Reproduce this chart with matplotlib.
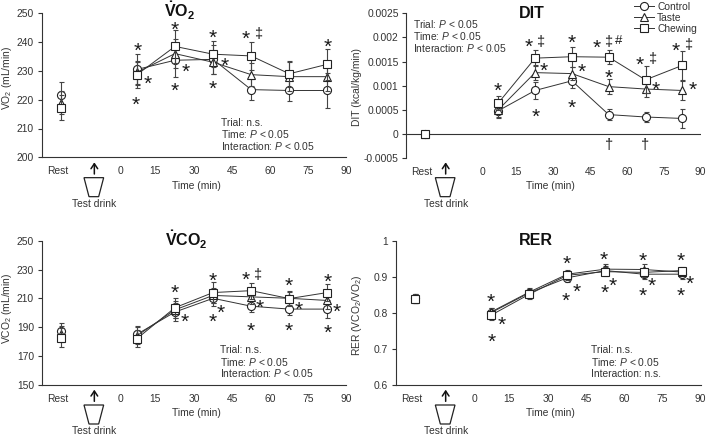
import matplotlib
matplotlib.use("Agg")
import matplotlib.pyplot as plt
from matplotlib.patches import Polygon

plt.rcParams.update({
    "font.family": ["Liberation Sans", "DejaVu Sans"],
    "mathtext.fontset": "custom",
    "mathtext.rm": "Liberation Sans",
    "mathtext.it": "Liberation Sans:italic",
    "mathtext.bf": "Liberation Sans:bold",
    "font.size": 7.4,
})

W, H = 708, 437
TEXT = "#333333"
INK = "#1a1a1a"
FS = 7.4

times = [7.5, 22.5, 37.5, 52.5, 67.5, 82.5]
rest_x = -22.5
x_tick_labels = ["Rest", "0", "15", "30", "45", "60", "75", "90"]
x_tick_pos = [-23.5, 1, 14.5, 30, 45, 60, 75, 90]
series_names = ["Control", "Taste", "Chewing"]
series_markers = ["o", "^", "s"]

vo2_rest = [221.5, 219, 217.2]
vo2_control = [230.5, 233.7, 234, 223.5, 223.2, 223.2]
vo2_taste = [229.5, 236, 233, 228.7, 228, 228]
vo2_chewing = [228.7, 238.5, 235.8, 235.2, 229, 232.3]
vo2_rest_err = [4.5, 4, 4.3]
vo2_err_control = [5.5, 5.7, 5, 3.6, 3.7, 6.2]
vo2_err_taste = [4, 5, 4, 4, 5, 5]
vo2_err_chewing = [4.5, 5.7, 4.5, 4.8, 4.5, 5.3]

dit_rest = [0, 0, 0]
dit_control = [0.00048, 0.0009, 0.0011, 0.0004, 0.00035, 0.00032]
dit_taste = [0.0005, 0.00127, 0.00125, 0.00098, 0.00093, 0.0009]
dit_chewing = [0.00064, 0.00157, 0.0016, 0.00159, 0.00112, 0.00142]
dit_rest_err = [0, 0, 0]
dit_err_control = [0.00015, 0.00018, 0.00015, 0.00011, 0.0001, 0.0002]
dit_err_taste = [0.00015, 0.00015, 0.00013, 0.00015, 0.00017, 0.0002]
dit_err_chewing = [0.00014, 0.00017, 0.00021, 0.00015, 0.00028, 0.0003]

vco2_rest = [187.5, 185, 182.7]
vco2_control = [185, 200.5, 210, 204.5, 202.5, 202.5]
vco2_taste = [184, 202, 212, 211, 210, 208.5]
vco2_chewing = [182, 203.5, 214, 215.3, 209.8, 214]
vco2_rest_err = [5.5, 5.5, 6.5]
vco2_err_control = [5.7, 6, 5.5, 4, 4, 6.5]
vco2_err_taste = [6, 6, 5, 5, 4.5, 6]
vco2_err_chewing = [6, 7, 7, 5.5, 5, 6]

rer_rest = [0.84, 0.84, 0.838]
rer_control = [0.8, 0.855, 0.897, 0.917, 0.907, 0.907]
rer_taste = [0.802, 0.857, 0.907, 0.921, 0.92, 0.913]
rer_chewing = [0.793, 0.851, 0.904, 0.914, 0.912, 0.917]
rer_rest_err = [0.012, 0.012, 0.012]
rer_err_control = [0.012, 0.01, 0.012, 0.012, 0.012, 0.012]
rer_err_taste = [0.012, 0.012, 0.013, 0.015, 0.015, 0.01]
rer_err_chewing = [0.012, 0.012, 0.013, 0.012, 0.012, 0.01]


def rect(l, t, r, b):
    return [l / W, 1 - b / H, (r - l) / W, (b - t) / H]


panels = [
    dict(box=rect(41.7, 13.3, 346.4, 157.3), ylim=(200, 250),
         yticks=[200, 210, 220, 230, 240, 250],
         ylab=["200", "210", "220", "230", "240", "250"],
         ylabel=r"VO$_2$ (mL/min)", lab_xy=(14, 78),
         rest=vo2_rest, rest_err=vo2_rest_err,
         data=[vo2_control, vo2_taste, vo2_chewing],
         err=[vo2_err_control, vo2_err_taste, vo2_err_chewing],
         title=r"$\mathbf{\dot{V}O_2}$", title_xy=(180, 11), ox=0, oy=0,
         arrow=283, time=590,
         stats=(663, [368, 402, 438], ["Trial: n.s.", r"Time: $\mathit{P}$ < 0.05", r"Interaction: $\mathit{P}$ < 0.05"]),
         stars=[(412, 135), (408, 295), (444, 233), (524, 72), (524, 255), (557, 197), (639, 96),
                (639, 247), (673, 180), (736, 97), (982, 122)],
         ddag=[(775, 98)], hash=[], dag=[]),
    dict(box=rect(406.3, 13.3, 700.7, 158), ylim=(-0.0005, 0.0025),
         yticks=[-0.0005, 0, 0.0005, 0.001, 0.0015, 0.002, 0.0025],
         ylab=["-0.0005", "0", "0.0005", "0.001", "0.0015", "0.002", "0.0025"],
         ylabel="DIT (kcal/kg/min)", lab_xy=(362, 87),
         rest=dit_rest, rest_err=dit_rest_err,
         data=[dit_control, dit_taste, dit_chewing],
         err=[dit_err_control, dit_err_taste, dit_err_chewing],
         title="DIT", title_xy=(532, 12), ox=354, oy=0,
         arrow=275, time=590,
         stats=(176, [72, 108, 143], [r"Trial: $\mathit{P}$ < 0.05", r"Time: $\mathit{P}$ < 0.05", r"Interaction: $\mathit{P}$ < 0.05"]),
         stars=[(430, 254), (523, 122), (570, 195), (544, 332), (652, 110), (682, 197), (654, 305),
                (728, 124), (764, 216), (858, 175), (906, 250), (966, 134), (1016, 251)],
         ddag=[(557, 120), (762, 122), (893, 173), (1001, 130)], hash=[(795, 122)],
         dag=[(765, 430), (873, 430)]),
    dict(box=rect(41.7, 240.7, 346.4, 384.7), ylim=(150, 250),
         yticks=[150, 170, 190, 210, 230, 250],
         ylab=["150", "170", "190", "210", "230", "250"],
         ylabel=r"VCO$_2$ (mL/min)", lab_xy=(14, 308),
         rest=vco2_rest, rest_err=vco2_rest_err,
         data=[vco2_control, vco2_taste, vco2_chewing],
         err=[vco2_err_control, vco2_err_taste, vco2_err_chewing],
         title=r"$\mathbf{\dot{V}CO_2}$", title_xy=(186, 240), ox=0, oy=218,
         arrow=283, time=590,
         stats=(661, [396, 431, 466], ["Trial: n.s.", r"Time: $\mathit{P}$ < 0.05", r"Interaction: $\mathit{P}$ < 0.05"]),
         stars=[(524, 205), (553, 292), (637, 170), (661, 267), (637, 292), (738, 167), (780, 250),
                (751, 320), (866, 186), (897, 257), (867, 320), (982, 172), (1011, 262), (982, 326)],
         ddag=[(771, 165)], hash=[], dag=[]),
    dict(box=rect(395.7, 240.7, 700.7, 384.7), ylim=(0.6, 1),
         yticks=[0.6, 0.7, 0.8, 0.9, 1],
         ylab=["0.6", "0.7", "0.8", "0.9", "1"],
         ylabel=r"RER (VCO$_2$/VO$_2$)", lab_xy=(364, 315),
         rest=rer_rest, rest_err=rer_rest_err,
         data=[rer_control, rer_taste, rer_chewing],
         err=[rer_err_control, rer_err_taste, rer_err_chewing],
         title="RER", title_xy=(536, 239), ox=354, oy=218,
         arrow=275, time=590,
         stats=(711, [397, 432, 467], ["Trial: n.s.", r"Time: $\mathit{P}$ < 0.05", "Interaction: n.s."]),
         stars=[(410, 232), (444, 301), (412, 354), (638, 119), (669, 204), (636, 229), (750, 108),
                (776, 184), (752, 207), (866, 109), (894, 186), (867, 214), (980, 110), (1006, 178),
                (979, 215)],
         ddag=[], hash=[], dag=[]),
]

fig = plt.figure(figsize=(W / 100, H / 100), dpi=100)


def fx(px):
    return px / W


def fy(py):
    return 1 - py / H


legend_handles = None
for i, p in enumerate(panels):
    ax = fig.add_axes(p["box"])
    ax.set_xlim(-30, 90)
    ax.set_ylim(*p["ylim"])
    ax.patch.set_alpha(0)
    for s in ("top", "right"):
        ax.spines[s].set_visible(False)
    for s in ("left", "bottom"):
        ax.spines[s].set_linewidth(0.8)
        ax.spines[s].set_color("#333333")
    if i == 1:
        ax.spines["bottom"].set_visible(False)
        ax.axhline(0, color="#333333", lw=0.8, zorder=1)
    ax.set_yticks(p["yticks"])
    ax.set_yticklabels(p["ylab"])
    ax.set_xticks(x_tick_pos)
    ax.set_xticklabels(x_tick_labels)
    ax.tick_params(axis="x", length=0, pad=6.5, labelsize=FS, labelcolor=TEXT)
    ax.tick_params(axis="y", length=3, width=0.8, color="#333333", pad=2.5, labelsize=FS, labelcolor=TEXT)
    ax.set_ylabel(p["ylabel"], fontsize=FS, color=TEXT)
    ax.yaxis.set_label_coords(fx(p["lab_xy"][0]), fy(p["lab_xy"][1]), transform=fig.transFigure)

    handles = []
    for k in range(3):
        ax.errorbar([rest_x], [p["rest"][k]], yerr=[p["rest_err"][k]] if p["rest_err"][k] else None,
                    fmt=series_markers[k], ms=5.8, mfc="white", mec="#222222", mew=0.8,
                    ecolor="#444444", elinewidth=0.8, capsize=1.8, capthick=0.8, zorder=3 + k)
        ax.errorbar(times, p["data"][k], yerr=p["err"][k], fmt="none",
                    ecolor="#444444", elinewidth=0.8, capsize=1.8, capthick=0.8, zorder=2 + k)
        line, = ax.plot(times, p["data"][k], color="#333333", lw=0.7, marker=series_markers[k],
                        ms=5.8, mfc="white", mec="#222222", mew=0.8, zorder=3 + k,
                        label=series_names[k])
        handles.append(line)
    if i == 1:
        legend_handles = handles

    fig.text(fx(p["title_xy"][0]), fy(p["title_xy"][1] + 6), p["title"], ha="center", va="baseline",
             fontsize=11.5, fontweight="bold", color="#111111")

    ox, oy = p["ox"], p["oy"]

    def px(zx, zy):
        return fx(ox + zx / 3), fy(oy + zy / 3)

    sx, sy_list, lines = p["stats"]
    for zy, t in zip(sy_list, lines):
        x_, y_ = px(sx, zy)
        fig.text(x_, y_, t, ha="left", va="center", fontsize=FS, color=TEXT)

    for zx, zy in p["stars"]:
        x_, y_ = px(zx, zy)
        fig.text(x_, y_ - 12.0 / H, "*", ha="center", va="baseline", fontsize=15, color=INK)
    for zx, zy in p["ddag"]:
        x_, y_ = px(zx, zy)
        fig.text(x_, y_ - 1.5 / H, "\u2021", ha="center", va="center", fontsize=10.5, color=INK)
    for zx, zy in p["hash"]:
        x_, y_ = px(zx, zy)
        fig.text(x_, y_, "#", ha="center", va="center", fontsize=9.5, color=INK)
    for zx, zy in p["dag"]:
        x_, y_ = px(zx, zy)
        fig.text(x_, y_ - 1.5 / H, "\u2020", ha="center", va="center", fontsize=10.5, color=INK)

    # "Time (min)" label, arrow, cup and "Test drink" label
    bottom = 0 if oy == 0 else 28
    x_, y_ = px(p["time"], 557 + bottom)
    fig.text(x_, y_, "Time (min)", ha="center", va="center", fontsize=FS, color=TEXT)
    a = p["arrow"]
    fig.add_artist(matplotlib.patches.FancyArrowPatch(
        px(a, 522 + bottom), px(a, 487 + bottom), transform=fig.transFigure,
        arrowstyle="->,head_length=2.4,head_width=1.6", lw=1.1, color="#111111",
        shrinkA=0, shrinkB=0, mutation_scale=1.5))
    cup = [px(a - 31, 533 + bottom), px(a + 28, 533 + bottom), px(a + 13, 590 + bottom), px(a - 16, 590 + bottom)]
    fig.add_artist(Polygon(cup, closed=True, fill=False, ec="#222222", lw=0.9, transform=fig.transFigure))
    x_, y_ = px(a, 612 + bottom)
    fig.text(x_, y_, "Test drink", ha="center", va="center", fontsize=FS, color=TEXT)

fig.legend(handles=legend_handles, labels=series_names, frameon=False, loc="upper left",
           bbox_to_anchor=(fx(354 + 840 / 3), fy(1.5)), fontsize=FS, labelcolor=TEXT,
           handlelength=1.9, handletextpad=0.35, labelspacing=0.12, borderpad=0, borderaxespad=0)

fig.savefig("out.png", dpi=100)
